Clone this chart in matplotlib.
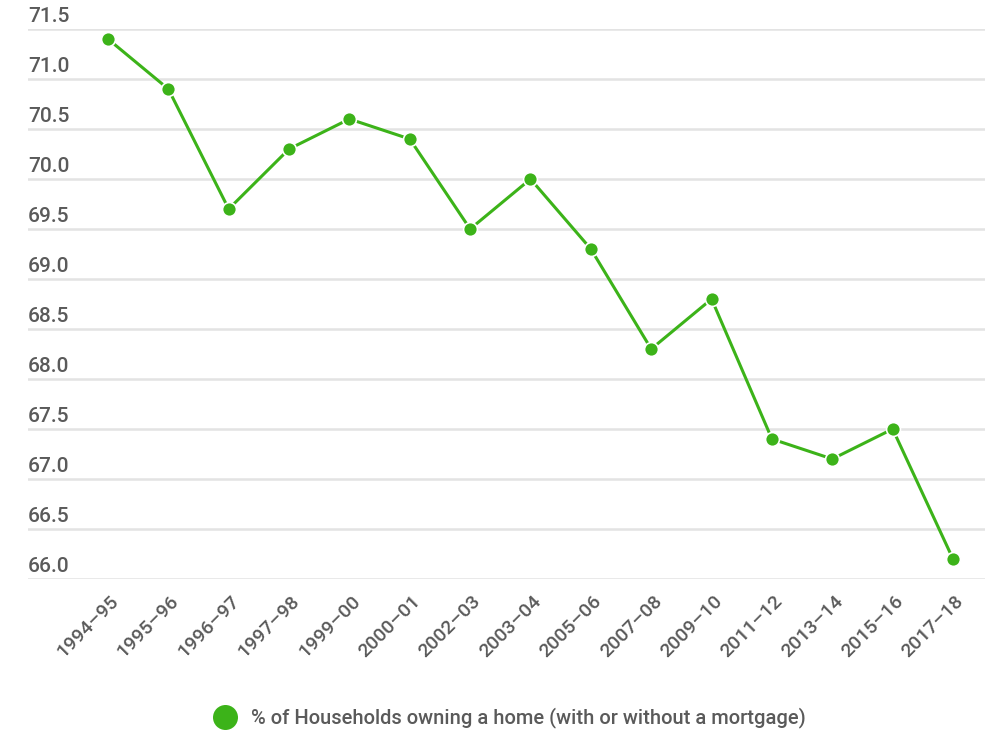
import matplotlib
matplotlib.use("Agg")
import matplotlib.pyplot as plt
import matplotlib.transforms as mtransforms

# data
periodos = ["1994–95", "1995–96", "1996–97", "1997–98", "1999–00", "2000–01", "2002–03",
            "2003–04", "2005–06", "2007–08", "2009–10", "2011–12", "2013–14", "2015–16", "2017–18"]
porcentaje = [71.4, 70.9, 69.7, 70.3, 70.6, 70.4, 69.5, 70.0, 69.3, 68.3, 68.8, 67.4, 67.2, 67.5, 66.2]
yticks = [66.0, 66.5, 67.0, 67.5, 68.0, 68.5, 69.0, 69.5, 70.0, 70.5, 71.0, 71.5]
etiqueta = "% of Households owning a home (with or without a mortgage)"

verde = "#3cb319"
gris_texto = "#5a5a5a"

plt.rcParams["font.family"] = ["Roboto", "DejaVu Sans"]

fig = plt.figure(figsize=(9.9, 7.31), dpi=100)
ax = fig.add_axes([28 / 990, 1 - 579 / 731, (985 - 28) / 990, 550 / 731])

x = list(range(len(periodos)))
ax.plot(x, porcentaje, color=verde, lw=2.2, marker="o", markersize=10,
        markerfacecolor=verde, markeredgecolor="white", markeredgewidth=1.2,
        clip_on=False, zorder=3, label=etiqueta)

ax.set_xlim(-1.325, 14.53)
ax.set_ylim(66.0, 71.5)

# horizontal grid lines, labels sit on top of them at the left
ax.set_yticks(yticks)
ax.yaxis.grid(True, color="#e3e3e3", lw=1.8)
ax.set_axisbelow(True)
ax.tick_params(axis="y", length=0, labelleft=False)
sube = mtransforms.ScaledTranslation(0, 3 / 100, fig.dpi_scale_trans)
for v in yticks:
    ax.text(0, v, f"{v:.1f}", transform=ax.get_yaxis_transform() + sube,
            ha="left", va="bottom", fontsize=15, color=gris_texto, fontweight="medium")

ax.set_xticks(x)
ax.set_xticklabels(periodos, rotation=45, ha="right", va="center",
                   rotation_mode="anchor", fontsize=14, color=gris_texto, fontweight="medium")
ax.tick_params(axis="x", length=0, pad=14)
desplaza = mtransforms.ScaledTranslation(8 / 100, 0, fig.dpi_scale_trans)
for lab in ax.get_xticklabels():
    lab.set_transform(lab.get_transform() + desplaza)

for s in ax.spines.values():
    s.set_visible(False)

fig.legend(loc="center", bbox_to_anchor=(510 / 990, 1 - 718 / 731), frameon=False,
           prop={"size": 14.5, "weight": "medium"}, handlelength=1.0, handletextpad=0.8,
           markerscale=1.8, labelcolor=gris_texto)
leg = fig.legends[0]
for h in leg.legend_handles:
    h.set_linestyle("none")
    h.set_markeredgewidth(0)

fig.savefig("out.png", dpi=100, facecolor="white")
